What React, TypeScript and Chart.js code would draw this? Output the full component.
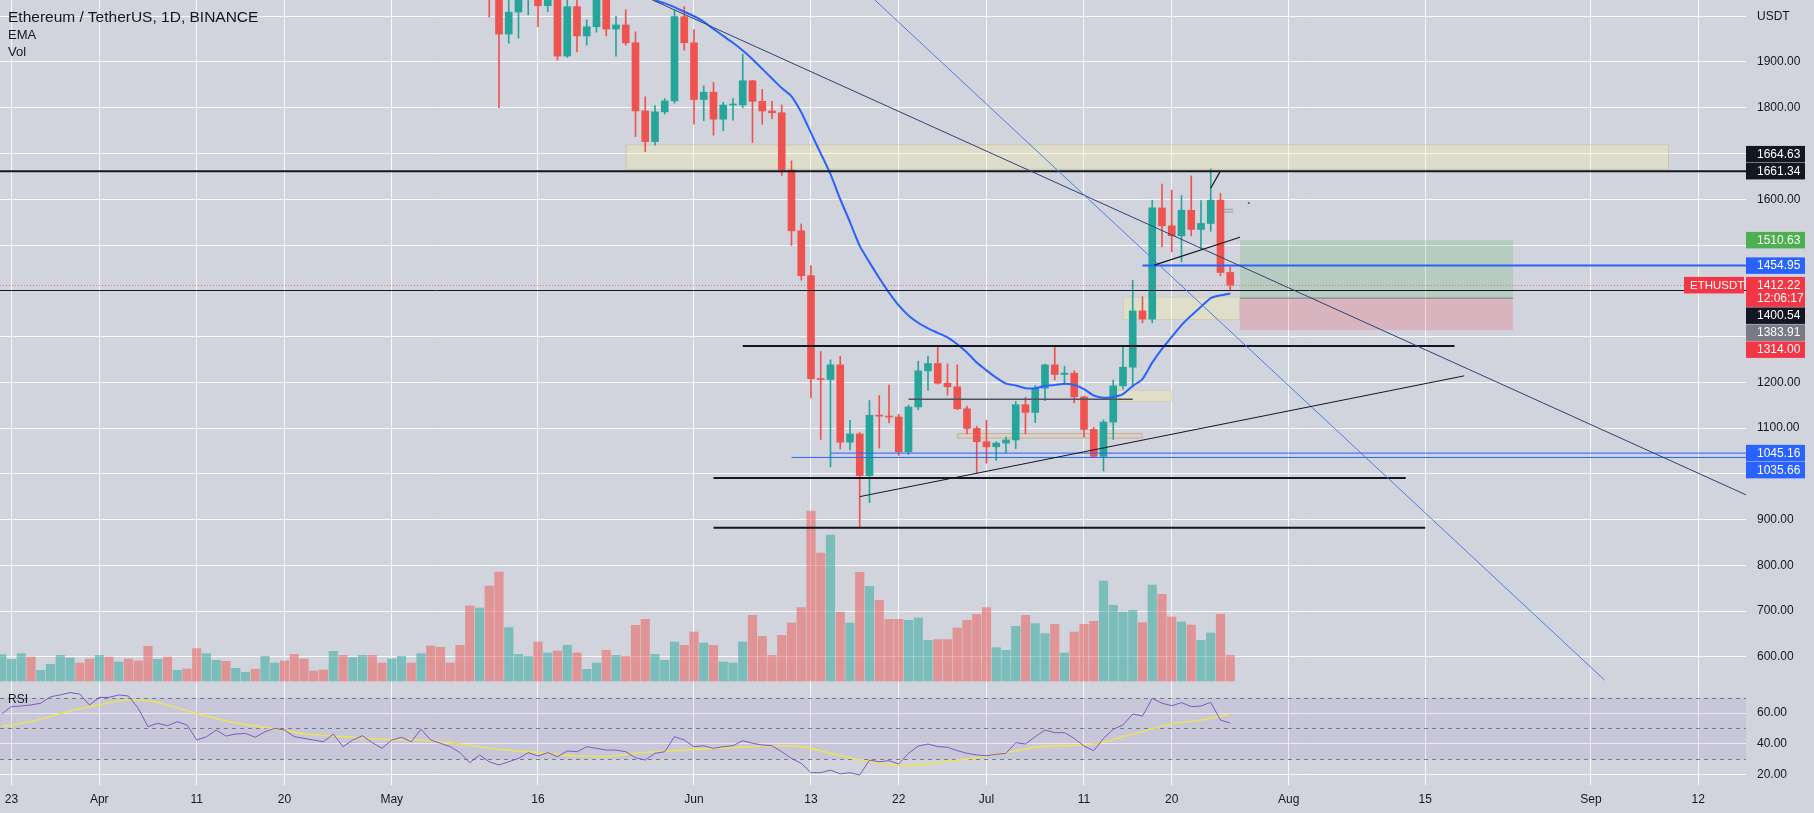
import React, { useEffect, useRef } from 'react';
import { Chart, registerables } from 'chart.js';

Chart.register(...registerables);

// ---------- layout / style constants ----------
const PAGE_W = 1814;
const PAGE_H = 813;
const MAIN_H = 685;
const RSI_H = 128;
const AXIS_W = 68;
const BG = '#d1d4dc';
const GRID = 'rgba(255,255,255,0.85)';
const TEXT = '#131722';
const FONT = '"Liberation Sans", Arial, sans-serif';
const UP = '#26a69a';
const DOWN = '#ef5350';
const VOL_UP = 'rgba(38,166,154,0.5)';
const VOL_DOWN = 'rgba(239,83,80,0.5)';

// ---------- visible ranges ----------
// x is measured in days since 2022-03-23
const X_MIN = -1.18;
const X_MAX = 177.9;
const PRICE_MIN = 538.3;
const PRICE_MAX = 2035.5;
const VOL_MIN = -52;
const VOL_MAX = 8853;
const RSI_MIN = 13.3;
const RSI_MAX = 78.25;

// ---------- axis ticks ----------
const tickDays = [0, 9, 19, 28, 39, 54, 70, 82, 91, 100, 110, 119, 131, 145, 162, 173];
const tickLabels = ['23', 'Apr', '11', '20', 'May', '16', 'Jun', '13', '22', 'Jul', '11', '20', 'Aug', '15', 'Sep', '12'];
const priceTicks = [600, 700, 800, 900, 1000, 1100, 1200, 1300, 1400, 1500, 1600, 1700, 1800, 1900, 2000];
const hiddenPriceTicks = [1000, 1300, 1400, 1500, 1700];
const rsiTicks = [20, 40, 60];

// ---------- candles (first candle = day 49, 2022-05-11) ----------
const candleStart = 49;
const opens = [
  2342, 2073, 1961, 2009, 2056, 2145, 2023, 2091, 1913, 2021,
  1957, 1977, 2043, 1972, 1981, 1942, 1793, 1726, 1791, 1815,
  1999, 1942, 1818, 1834, 1775, 1806, 1806, 1859, 1814, 1793,
  1789, 1664, 1531, 1433, 1208, 1206, 1238, 1069, 1087, 996,
  1128, 1126, 1124, 1048, 1146, 1225, 1241, 1198, 1190, 1142,
  1099, 1070, 1059, 1067, 1074, 1151, 1134, 1187, 1238, 1217,
  1220, 1168, 1097, 1038, 1113, 1192, 1233, 1356, 1338, 1581,
  1542, 1520, 1576, 1534, 1547, 1598, 1440,
];
const highs = [
  2450, 2100, 2145, 2070, 2160, 2148, 2110, 2100, 2040, 2060,
  1992, 2055, 2085, 2000, 2014, 1966, 1824, 1805, 1820, 2014,
  2021, 1971, 1848, 1855, 1812, 1820, 1917, 1860, 1840, 1814,
  1806, 1684, 1546, 1455, 1267, 1249, 1257, 1117, 1090, 1160,
  1171, 1194, 1130, 1150, 1246, 1257, 1276, 1240, 1238, 1148,
  1104, 1117, 1070, 1080, 1158, 1167, 1193, 1240, 1280, 1235,
  1225, 1170, 1101, 1118, 1205, 1280, 1423, 1387, 1598, 1633,
  1620, 1608, 1651, 1597, 1666, 1613, 1452,
];
const lows = [
  1998, 1800, 1941, 1952, 2003, 1977, 2010, 1904, 1910, 1922,
  1937, 1965, 1957, 1913, 1937, 1737, 1704, 1718, 1786, 1810,
  1926, 1764, 1772, 1740, 1750, 1773, 1800, 1724, 1764, 1776,
  1652, 1499, 1423, 1166, 1075, 1015, 1054, 1052, 881, 937,
  1056, 1111, 1040, 1042, 1140, 1182, 1196, 1172, 1140, 1087,
  1001, 1023, 1029, 1045, 1055, 1087, 1112, 1160, 1205, 1195,
  1155, 1080, 1035, 1006, 1075, 1185, 1190, 1330, 1330, 1496,
  1485, 1463, 1520, 1491, 1530, 1433, 1402,
];
const closes = [
  2073, 1961, 2009, 2056, 2145, 2023, 2091, 1913, 2021, 1957,
  1977, 2043, 1972, 1981, 1942, 1793, 1726, 1791, 1815, 1999,
  1942, 1818, 1834, 1775, 1806, 1806, 1859, 1814, 1793, 1789,
  1664, 1531, 1433, 1208, 1206, 1238, 1069, 1087, 996, 1128,
  1126, 1124, 1048, 1146, 1225, 1241, 1198, 1190, 1142, 1099,
  1070, 1059, 1067, 1074, 1151, 1134, 1187, 1238, 1217, 1220,
  1168, 1097, 1038, 1113, 1192, 1233, 1356, 1338, 1581, 1542,
  1520, 1576, 1534, 1547, 1598, 1440, 1412.22,
];

// ---------- EMA (first value = day 66) ----------
const emaStart = 66;
const emaValues = [
  2035, 2028, 2020, 2010, 2000, 1988, 1972, 1957, 1942, 1925,
  1906, 1885, 1864, 1843, 1825, 1790, 1745, 1700, 1655, 1600,
  1550, 1498, 1462, 1428, 1396, 1368, 1346, 1330, 1318, 1308,
  1298, 1283, 1265, 1243, 1226, 1210, 1197, 1193, 1187, 1187,
  1192, 1194, 1197, 1194, 1185, 1171, 1166, 1168, 1174, 1192,
  1207, 1243, 1273, 1299, 1325, 1346, 1365, 1384, 1390, 1394,
];

// ---------- volume (first value = day -1) ----------
const volStart = -1;
const volumes = [
  343, 282, 356, 312, 139, 217, 334, 299, 234, 286,
  334, 312, 247, 286, 260, 451, 282, 312, 139, 156,
  421, 356, 269, 256, 165, 113, 152, 321, 234, 260,
  347, 286, 130, 143, 386, 334, 304, 334, 334, 234,
  286, 321, 234, 356, 455, 438, 234, 464, 975, 949,
  1235, 1417, 694, 347, 321, 507, 364, 390, 464, 364,
  152, 234, 399, 334, 321, 724, 802, 347, 269, 507,
  464, 637, 494, 464, 247, 234, 507, 854, 581, 334,
  594, 754, 954, 2210, 1664, 1898, 897, 754, 1413, 1231,
  1049, 802, 802, 789, 819, 529, 538, 538, 689, 789,
  867, 954, 434, 399, 711, 854, 746, 616, 737, 364,
  637, 737, 776, 1300, 984, 897, 919, 759, 1248, 1127,
  832, 767, 728, 529, 624, 867, 334,
];
// volume direction for the days before the first visible candle (1 = up)
const earlyVolUp = [
  1, 1, 1, 0, 1, 1, 1, 1, 0, 0,
  1, 0, 1, 0, 0, 0, 1, 0, 1, 0,
  0, 1, 1, 0, 1, 1, 0, 1, 1, 0,
  0, 0, 0, 0, 1, 0, 1, 1, 0, 0,
  1, 1, 0, 1, 0, 0, 0, 0, 0, 1,
];

// ---------- RSI (first value = day -1) ----------
const rsiStart = -1;
const rsiValues = [
  59.5, 64.2, 64.6, 65.3, 66.4, 70.6, 71.8, 73.3, 72.4, 65.3,
  70.2, 70.2, 71.8, 71.1, 63.1, 51.2, 53.4, 51.8, 54.4, 52.3,
  42.5, 44.7, 49, 45.1, 46.4, 46.8, 44.3, 47.9, 50.1, 49,
  44.7, 43.6, 42.5, 41.4, 46.4, 38.2, 42.5, 45.3, 40.8, 37.1,
  42.5, 44.3, 41.4, 49.5, 42.5, 40.4, 38.2, 34.3, 27.8, 32.8,
  28.4, 26.3, 28.4, 30.6, 34.3, 32.1, 34.3, 31.7, 35.4, 34.9,
  38.2, 37.1, 36, 36, 34.9, 31, 29.5, 33.9, 34.9, 44.7,
  42.5, 38.2, 38.8, 37.1, 38.2, 38.8, 42.1, 40.4, 39.3, 38.8,
  34.9, 30.6, 27.4, 21.3, 21.3, 23, 20.5, 21.3, 19.8, 29.5,
  28.4, 29.1, 27, 33.9, 38.6, 39.9, 38.2, 37.8, 35.6, 33.9,
  32.8, 32.3, 33.2, 33.9, 40.8, 39.9, 44.7, 49, 47.3, 47.3,
  43.6, 38.6, 35.6, 43.6, 49.5, 52.3, 59.4, 58.1, 69.6, 66.4,
  64.8, 66.8, 64.2, 64.6, 67, 55.5, 53.5,
];
const rsiMaDays = [-1, 2.7, 6.7, 9, 12, 14, 18.4, 22.4, 27.8, 30.2, 34, 38, 42, 46, 50, 54, 58, 61, 64, 68, 72, 76, 78, 81, 84, 88, 91.7, 95.7, 99.6, 103.5, 105.5, 110, 111.4, 115.3, 119.3, 122, 125];
const rsiMaValues = [51.2, 55.5, 62.5, 65.3, 68.5, 68, 60.9, 54.4, 49, 46.4, 44.7, 43, 42.5, 39.9, 36.5, 34.3, 32.1, 31.8, 33.9, 35.6, 37.1, 38.2, 38.8, 38.2, 33.9, 28.4, 25.8, 28.4, 31.7, 36, 38.2, 39.3, 40.4, 46.9, 53.4, 55.5, 59.4];
const rsiLevels = [70, 50, 30];

// ---------- drawings (day / price coordinates) ----------
const zones = [
  { d1: 63, d2: 170, p1: 1664.63, p2: 1720, fill: 'rgba(255,244,165,0.28)', stroke: 'rgba(185,180,140,0.5)' },
  { d1: 114, d2: 126, p1: 1336, p2: 1387, fill: 'rgba(255,244,165,0.3)', stroke: 'rgba(185,180,140,0.4)' },
  { d1: 113, d2: 119, p1: 1157, p2: 1183, fill: 'rgba(255,244,165,0.35)', stroke: 'rgba(185,180,140,0.4)' },
  { d1: 97, d2: 116, p1: 1077, p2: 1089, fill: 'rgba(235,205,165,0.4)', stroke: 'rgba(170,150,115,0.55)' },
  { d1: 126, d2: 154, p1: 1383.91, p2: 1510.63, fill: 'rgba(76,175,80,0.2)', stroke: null },
  { d1: 126, d2: 154, p1: 1314, p2: 1383.91, fill: 'rgba(242,54,69,0.2)', stroke: null },
];
const hLines = [
  { p: 1661.34, d1: null, d2: null, color: '#131722', w: 2 },
  { p: 1400.54, d1: null, d2: null, color: '#131722', w: 1 },
  { p: 1454.95, d1: 116, d2: null, color: '#2962ff', w: 2 },
  { p: 1045.16, d1: 84, d2: null, color: '#2962ff', w: 1 },
  { p: 1035.66, d1: 80, d2: null, color: '#2962ff', w: 1 },
  { p: 1279, d1: 75, d2: 148, color: '#131722', w: 2 },
  { p: 991, d1: 72, d2: 143, color: '#131722', w: 2 },
  { p: 882, d1: 72, d2: 145, color: '#131722', w: 2 },
  { p: 1163, d1: 92, d2: 115, color: '#50535e', w: 1.5 },
  { p: 1383.91, d1: 126, d2: 154, color: '#787b86', w: 1 },
  { p: 1578, d1: 124.3, d2: 125.3, color: '#9598a1', w: 1 },
  { p: 1572, d1: 124.3, d2: 125.3, color: '#9598a1', w: 1 },
];
const trendLines = [
  { d1: 60, p1: 2091, d2: 178, p2: 953, color: '#2d4373', w: 1 },
  { d1: 85, p1: 2106, d2: 163.4, p2: 549, color: '#4a7fe0', w: 1 },
  { d1: 87, p1: 950, d2: 149, p2: 1214, color: '#131722', w: 1 },
  { d1: 117.2, p1: 1456, d2: 126, p2: 1517, color: '#131722', w: 1.2 },
  { d1: 123, p1: 1624, d2: 124, p2: 1662, color: '#131722', w: 1.2 },
];
const dots = [{ d: 126.9, p: 1592 }];
const lastPrice = 1412.22;
const countdown = '12:06:17';
const axisLabels = [
  { price: 1664.63, bg: '#131722', push: 'up' },
  { price: 1661.34, bg: '#131722', push: '' },
  { price: 1510.63, bg: '#4caf50', push: '' },
  { price: 1454.95, bg: '#2962ff', push: '' },
  { price: 1412.22, bg: '#f23645', push: '', sub: countdown },
  { price: 1400.54, bg: '#131722', push: 'down' },
  { price: 1383.91, bg: '#787b86', push: 'down' },
  { price: 1314.0, bg: '#f23645', push: 'down' },
  { price: 1045.16, bg: '#2962ff', push: '' },
  { price: 1035.66, bg: '#2962ff', push: 'down' },
];

// ---------- helpers ----------
const isUp = (i: number) => closes[i] >= opens[i];

const mainPlugin = {
  id: 'tvDrawings',
  beforeDatasetsDraw(chart: any) {
    const { ctx, chartArea: a, scales } = chart;
    const x = scales.x, y = scales.y;
    ctx.save();
    ctx.beginPath();
    ctx.rect(a.left, a.top, a.right - a.left, a.bottom - a.top);
    ctx.clip();
    for (const z of zones) {
      const x1 = x.getPixelForValue(z.d1), x2 = x.getPixelForValue(z.d2);
      const y1 = y.getPixelForValue(z.p2), y2 = y.getPixelForValue(z.p1);
      ctx.fillStyle = z.fill;
      ctx.fillRect(x1, y1, x2 - x1, y2 - y1);
      if (z.stroke) {
        ctx.strokeStyle = z.stroke;
        ctx.lineWidth = 1;
        ctx.strokeRect(x1 + 0.5, y1 + 0.5, x2 - x1 - 1, y2 - y1 - 1);
      }
    }
    ctx.restore();
  },
  afterDatasetsDraw(chart: any) {
    const { ctx, chartArea: a, scales } = chart;
    const x = scales.x, y = scales.y;
    ctx.save();
    ctx.beginPath();
    ctx.rect(a.left, a.top, a.right - a.left, a.bottom - a.top);
    ctx.clip();
    // last price dotted line
    const ly = Math.round(y.getPixelForValue(lastPrice)) + 0.5;
    ctx.strokeStyle = 'rgba(242,54,69,0.6)';
    ctx.lineWidth = 1;
    ctx.setLineDash([1, 2]);
    ctx.beginPath();
    ctx.moveTo(a.left, ly);
    ctx.lineTo(a.right, ly);
    ctx.stroke();
    ctx.setLineDash([]);
    for (const l of hLines) {
      const x1 = l.d1 === null ? a.left : x.getPixelForValue(l.d1);
      const x2 = l.d2 === null ? a.right : x.getPixelForValue(l.d2);
      const py = y.getPixelForValue(l.p);
      ctx.strokeStyle = l.color;
      ctx.lineWidth = l.w;
      ctx.beginPath();
      ctx.moveTo(x1, py);
      ctx.lineTo(x2, py);
      ctx.stroke();
    }
    for (const t of trendLines) {
      ctx.strokeStyle = t.color;
      ctx.lineWidth = t.w;
      ctx.beginPath();
      ctx.moveTo(x.getPixelForValue(t.d1), y.getPixelForValue(t.p1));
      ctx.lineTo(x.getPixelForValue(t.d2), y.getPixelForValue(t.p2));
      ctx.stroke();
    }
    ctx.fillStyle = '#50535e';
    for (const dt of dots) {
      ctx.beginPath();
      ctx.arc(x.getPixelForValue(dt.d), y.getPixelForValue(dt.p), 1, 0, Math.PI * 2);
      ctx.fill();
    }
    ctx.restore();
  },
  afterDraw(chart: any) {
    const { ctx, chartArea: a, scales } = chart;
    const y = scales.y;
    const H1 = 16.5;
    const items = axisLabels.map((l) => {
      const cy = y.getPixelForValue(l.price);
      return { ...l, top: cy - H1 / 2, h: l.sub ? 30 : H1 };
    });
    for (let i = 1; i < items.length; i++) {
      const it = items[i], prev = items[i - 1];
      if (it.push === 'down' && it.top < prev.top + prev.h + 0.5) it.top = prev.top + prev.h + 0.5;
    }
    for (let i = items.length - 2; i >= 0; i--) {
      const it = items[i], next = items[i + 1];
      if (it.push === 'up' && it.top + it.h > next.top - 0.5) it.top = next.top - 0.5 - it.h;
    }
    ctx.save();
    ctx.textBaseline = 'middle';
    ctx.textAlign = 'left';
    // ETHUSDT tag
    const ly = y.getPixelForValue(lastPrice);
    ctx.fillStyle = '#f23645';
    ctx.fillRect(a.right - 62, ly - H1 / 2, 60, H1);
    ctx.fillStyle = '#ffffff';
    ctx.font = `11.5px ${FONT}`;
    ctx.fillText('ETHUSDT', a.right - 56, ly + 0.5);
    ctx.font = `12px ${FONT}`;
    for (const it of items) {
      ctx.fillStyle = it.bg;
      ctx.fillRect(a.right, it.top, 59, it.h);
      ctx.fillStyle = '#ffffff';
      ctx.fillText(it.price.toFixed(2), a.right + 11, it.top + H1 / 2 + 0.5);
      if (it.sub) ctx.fillText(it.sub, a.right + 11, it.top + H1 / 2 + 13.5);
    }
    ctx.restore();
  },
};

const rsiPlugin = {
  id: 'rsiDecor',
  beforeDatasetsDraw(chart: any) {
    const { ctx, chartArea: a, scales } = chart;
    const y = scales.y;
    ctx.save();
    const yTop = y.getPixelForValue(rsiLevels[0]);
    const yBot = y.getPixelForValue(rsiLevels[2]);
    ctx.fillStyle = 'rgba(126,87,194,0.1)';
    ctx.fillRect(a.left, yTop, a.right - a.left, yBot - yTop);
    ctx.strokeStyle = '#787b86';
    ctx.lineWidth = 1;
    ctx.setLineDash([4, 4]);
    for (const lv of rsiLevels) {
      const py = Math.round(y.getPixelForValue(lv)) + 0.5;
      ctx.beginPath();
      ctx.moveTo(a.left, py);
      ctx.lineTo(a.right, py);
      ctx.stroke();
    }
    ctx.restore();
  },
};

const hideX = (s: any) => {
  s.paddingLeft = 0;
  s.paddingRight = 0;
};

function mainConfig(): any {
  const bodies: any[] = [];
  const wicks: any[] = [];
  const colors: string[] = [];
  opens.forEach((o, i) => {
    const d = candleStart + i;
    bodies.push({ x: d, y: [o, closes[i]] });
    wicks.push({ x: d, y: [lows[i], highs[i]] });
    colors.push(isUp(i) ? UP : DOWN);
  });
  const vols = volumes.map((v, i) => ({ x: volStart + i, y: v }));
  const volColors = volumes.map((_, i) => {
    const d = volStart + i;
    const up = d < candleStart ? earlyVolUp[i] === 1 : isUp(d - candleStart);
    return up ? VOL_UP : VOL_DOWN;
  });
  const ema = emaValues.map((v, i) => ({ x: emaStart + i, y: v }));
  return {
    type: 'bar',
    data: {
      datasets: [
        { type: 'line', label: 'EMA', data: ema, borderColor: '#2962ff', borderWidth: 2, pointRadius: 0, tension: 0.2, yAxisID: 'y', order: 0 },
        { type: 'bar', label: 'Body', data: bodies, backgroundColor: colors, barThickness: 7, grouped: false, minBarLength: 1, yAxisID: 'y', order: 1 },
        { type: 'bar', label: 'Wick', data: wicks, backgroundColor: colors, barThickness: 1, grouped: false, yAxisID: 'y', order: 2 },
        { type: 'bar', label: 'Vol', data: vols, backgroundColor: volColors, barThickness: 8.5, grouped: false, yAxisID: 'yv', order: 3 },
      ],
    },
    options: {
      animation: false,
      responsive: false,
      maintainAspectRatio: false,
      events: [],
      layout: { padding: 0 },
      plugins: { legend: { display: false }, tooltip: { enabled: false }, title: { display: false } },
      scales: {
        x: {
          type: 'linear', min: X_MIN, max: X_MAX, offset: false,
          grid: { offset: false, color: GRID, lineWidth: 1, drawTicks: false },
          border: { display: false },
          ticks: { display: false },
          afterBuildTicks: (ax: any) => { ax.ticks = tickDays.map((v) => ({ value: v })); },
          afterFit: (s: any) => { s.height = 0; hideX(s); },
        },
        y: {
          type: 'linear', position: 'right', min: PRICE_MIN, max: PRICE_MAX, beginAtZero: false,
          grid: { color: GRID, lineWidth: 1, drawTicks: false },
          border: { display: false },
          ticks: {
            padding: 11, color: TEXT, font: { family: FONT, size: 12 }, autoSkip: false,
            callback: (v: number) => (v === 2000 ? 'USDT' : hiddenPriceTicks.includes(v) ? '' : v.toFixed(2)),
          },
          afterBuildTicks: (ax: any) => { ax.ticks = priceTicks.map((v) => ({ value: v })); },
          afterFit: (s: any) => { s.width = AXIS_W; s.paddingTop = 0; s.paddingBottom = 0; },
        },
        yv: { type: 'linear', display: false, min: VOL_MIN, max: VOL_MAX, beginAtZero: false },
      },
    },
    plugins: [mainPlugin],
  };
}

function rsiConfig(): any {
  const rsi = rsiValues.map((v, i) => ({ x: rsiStart + i, y: v }));
  const ma = rsiMaValues.map((v, i) => ({ x: rsiMaDays[i], y: v }));
  return {
    type: 'line',
    data: {
      datasets: [
        { label: 'RSI', data: rsi, borderColor: '#7e57c2', borderWidth: 1, pointRadius: 0, tension: 0 },
        { label: 'RSI MA', data: ma, borderColor: '#ebe15e', borderWidth: 1.6, pointRadius: 0, cubicInterpolationMode: 'monotone' },
      ],
    },
    options: {
      animation: false,
      responsive: false,
      maintainAspectRatio: false,
      events: [],
      layout: { padding: 0 },
      plugins: { legend: { display: false }, tooltip: { enabled: false } },
      scales: {
        x: {
          type: 'linear', min: X_MIN, max: X_MAX, offset: false,
          grid: { color: GRID, lineWidth: 1, drawTicks: false },
          border: { display: false },
          ticks: {
            padding: 7, color: TEXT, font: { family: FONT, size: 12 }, autoSkip: false, maxRotation: 0,
            callback: (v: number) => { const k = tickDays.indexOf(v); return k >= 0 ? tickLabels[k] : ''; },
          },
          afterBuildTicks: (ax: any) => { ax.ticks = tickDays.map((v) => ({ value: v })); },
          afterFit: (s: any) => { s.height = RSI_H - 100; hideX(s); },
        },
        y: {
          type: 'linear', position: 'right', min: RSI_MIN, max: RSI_MAX,
          grid: { color: GRID, lineWidth: 1, drawTicks: false },
          border: { display: false },
          ticks: { padding: 11, color: TEXT, font: { family: FONT, size: 12 }, callback: (v: number) => v.toFixed(2) },
          afterBuildTicks: (ax: any) => { ax.ticks = rsiTicks.map((v) => ({ value: v })); },
          afterFit: (s: any) => { s.width = AXIS_W; s.paddingTop = 0; s.paddingBottom = 0; },
        },
      },
    },
    plugins: [rsiPlugin],
  };
}

export default function App() {
  const mainRef = useRef<HTMLCanvasElement>(null);
  const rsiRef = useRef<HTMLCanvasElement>(null);

  useEffect(() => {
    document.body.style.margin = '0';
    const main = new Chart(mainRef.current as HTMLCanvasElement, mainConfig());
    const rsi = new Chart(rsiRef.current as HTMLCanvasElement, rsiConfig());
    return () => {
      main.destroy();
      rsi.destroy();
    };
  }, []);

  return (
    <div style={{ position: 'fixed', left: 0, top: 0, width: PAGE_W, height: PAGE_H, background: BG, overflow: 'hidden' }}>
      <canvas ref={mainRef} width={PAGE_W} height={MAIN_H} style={{ position: 'absolute', left: 0, top: 0, width: PAGE_W, height: MAIN_H }} />
      <canvas ref={rsiRef} width={PAGE_W} height={RSI_H} style={{ position: 'absolute', left: 0, top: MAIN_H, width: PAGE_W, height: RSI_H }} />
      <div style={{ position: 'absolute', left: 8, top: 7, font: `13px ${FONT}`, lineHeight: '17px', color: TEXT, pointerEvents: 'none' }}>
        <div style={{ fontSize: 15.5, lineHeight: '19px' }}>Ethereum / TetherUS, 1D, BINANCE</div>
        <div>EMA</div>
        <div>Vol</div>
      </div>
      <div style={{ position: 'absolute', left: 8, top: MAIN_H + 6, font: `12px ${FONT}`, lineHeight: '16px', color: TEXT, pointerEvents: 'none' }}>RSI</div>
    </div>
  );
}
